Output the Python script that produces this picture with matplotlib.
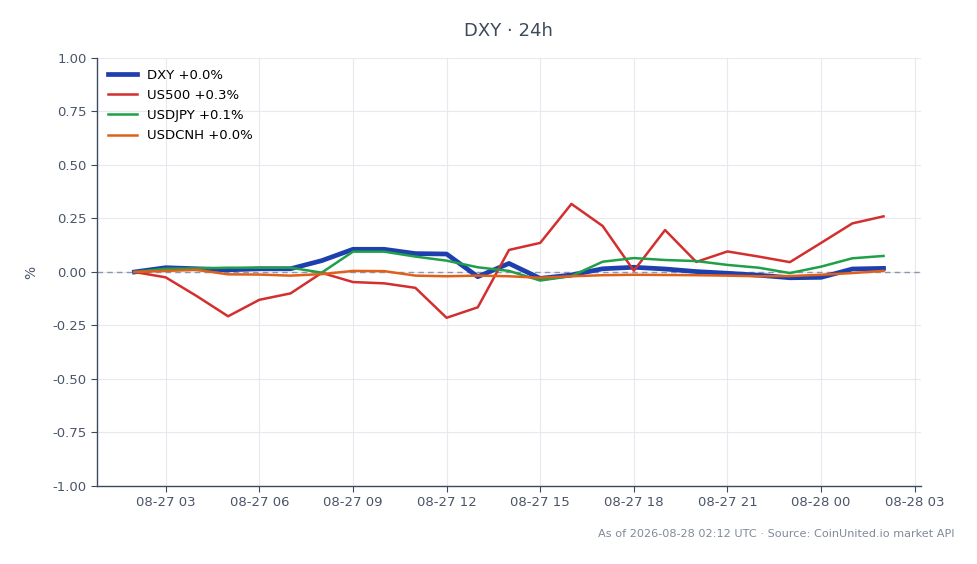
import matplotlib
matplotlib.use("Agg")
import matplotlib.pyplot as plt
import matplotlib.dates as mdates
import pandas as pd

times = pd.date_range("2026-08-27 02:00", periods=25, freq="h")

dxy = [0.0, 0.02, 0.015, 0.01, 0.015, 0.015, 0.053, 0.106, 0.106, 0.086, 0.084,
       -0.022, 0.04, -0.03, -0.014, 0.015, 0.022, 0.014, 0.002, -0.006, -0.015,
       -0.027, -0.025, 0.014, 0.017]
us500 = [0.0, -0.025, -0.113, -0.207, -0.13, -0.10, -0.004, -0.047, -0.053, -0.074,
         -0.214, -0.165, 0.103, 0.136, 0.318, 0.215, 0.006, 0.196, 0.047, 0.096,
         0.072, 0.046, 0.136, 0.227, 0.26]
usdjpy = [0.0, 0.015, 0.017, 0.02, 0.02, 0.02, -0.003, 0.095, 0.095, 0.072, 0.053,
          0.022, 0.005, -0.04, -0.019, 0.048, 0.065, 0.056, 0.051, 0.033, 0.02,
          -0.005, 0.025, 0.064, 0.075]
usdcnh = [0.0, 0.005, 0.01, -0.011, -0.012, -0.017, -0.01, 0.005, 0.004, -0.017,
          -0.02, -0.017, -0.02, -0.027, -0.02, -0.015, -0.013, -0.014, -0.015,
          -0.017, -0.02, -0.019, -0.013, -0.005, 0.005]

labels = ["DXY +0.0%", "US500 +0.3%", "USDJPY +0.1%", "USDCNH +0.0%"]
series = [dxy, us500, usdjpy, usdcnh]
colors = ["#1e40af", "#d32f2f", "#1fa048", "#e0601a"]
widths = [3.4, 1.8, 1.8, 1.8]

title = "DXY · 24h"
footer = "As of 2026-08-28 02:12 UTC · Source: CoinUnited.io market API"

text_col = "#4a5568"
fig = plt.figure(figsize=(9.78, 5.64), dpi=100)
ax = fig.add_axes([0.0992, 0.1383, 0.8425, 0.7589])

for s, lab, c, w in zip(series, labels, colors, widths):
    ax.plot(times, s, color=c, lw=w, label=lab, solid_joinstyle="round", zorder=2)

ax.axhline(0, color="#8c96b0", lw=1.0, ls=(0, (4, 3)), zorder=1.5)
ax.set_ylim(-1.0, 1.0)
ax.set_yticks([-1.0, -0.75, -0.5, -0.25, 0.0, 0.25, 0.5, 0.75, 1.0])
ax.yaxis.set_major_formatter(matplotlib.ticker.FormatStrFormatter("%.2f"))
ax.xaxis.set_major_locator(mdates.HourLocator(byhour=range(0, 24, 3)))
ax.xaxis.set_major_formatter(mdates.DateFormatter("%m-%d %H"))
ax.set_xlim(times[0] - pd.Timedelta(hours=1.2), times[-1] + pd.Timedelta(hours=1.2))

ax.grid(True, color="#e6e9ef", lw=0.8, zorder=0)
ax.set_axisbelow(True)
for sp in ["top", "right"]:
    ax.spines[sp].set_visible(False)
for sp in ["left", "bottom"]:
    ax.spines[sp].set_color("#3d4a5c")
    ax.spines[sp].set_linewidth(1.0)
ax.tick_params(colors="#3d4a5c", labelcolor=text_col, labelsize=9.5, length=4)
ax.set_ylabel("%", color=text_col, fontsize=10, labelpad=10)

leg = ax.legend(loc="upper left", frameon=False, fontsize=9.5, handlelength=2.2,
                borderaxespad=0.4, labelspacing=0.55)

fig.text(0.52, 0.945, title, ha="center", va="center", fontsize=13, color="#3d4a5c")
fig.text(0.976, 0.054, footer, ha="right", va="center", fontsize=8.1, color="#808a99")

fig.savefig("out.png", dpi=100)
